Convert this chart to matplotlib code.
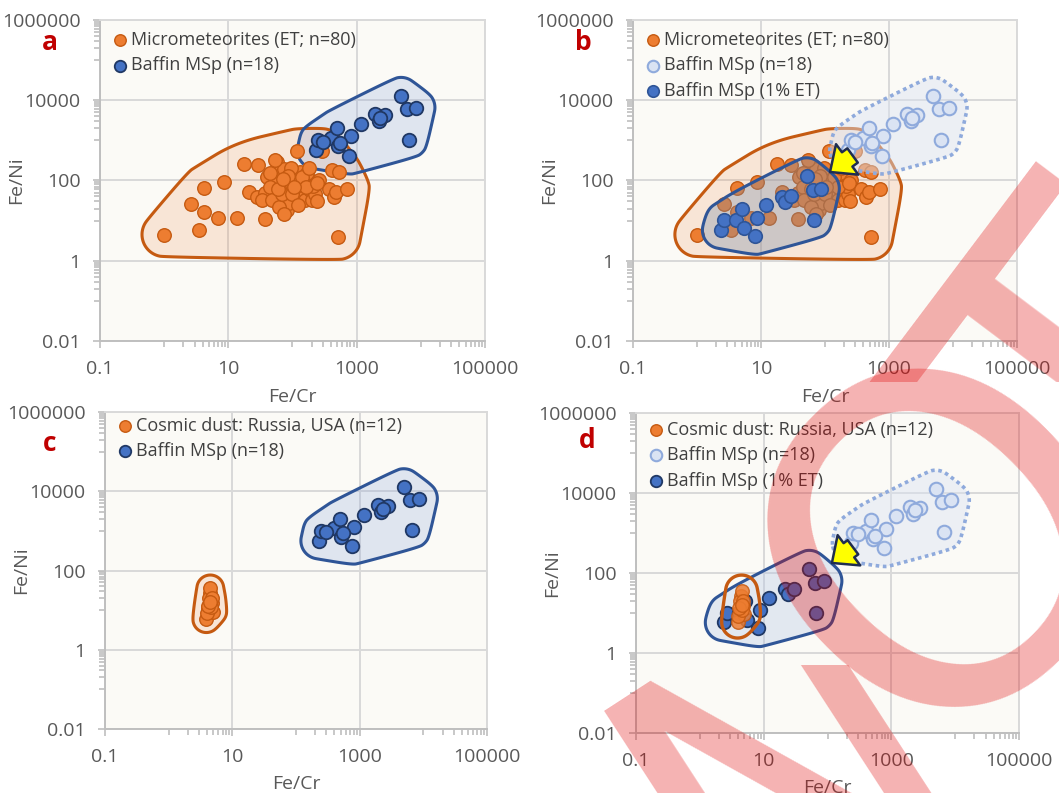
import numpy as np
import matplotlib
matplotlib.use("Agg")
from matplotlib import pyplot as plt
from matplotlib.patches import Polygon
from matplotlib.ticker import FixedLocator, NullFormatter
from matplotlib.transforms import Bbox

plt.rcParams['font.family'] = ['Open Sans', 'DejaVu Sans']

# micrometeorites (ET; n=80)
micro_fecr = [1.0, 2.65, 3.45, 4.2, 4.2, 6.9, 8.6, 13.5, 17.7, 29.4, 21, 27.7, 37.4, 37.4,
              39.8, 53.7, 57, 64.4, 72.6, 77, 79, 81.8, 86.9, 98, 111, 117, 125, 132, 137,
              150, 159, 179, 190, 202, 228, 242, 290, 369, 416, 442, 481, 530, 716, 516,
              53.7, 44.9, 33.2, 47.6, 60.6, 68.4, 72.6, 169, 257, 95, 140, 60, 100, 85,
              210, 45, 120, 160, 240, 105, 70, 180]
micro_feni = [4.5, 25.7, 6.0, 65.6, 16.5, 11.3, 92.7, 11.9, 265, 246, 52, 37.7, 10.8, 47.4,
              119, 87.5, 292, 181, 188, 84, 39, 18.9, 26.7, 76.5, 150, 540, 102, 164, 57,
              39, 32, 102, 57, 32, 47, 31, 550, 63, 181, 39, 52, 164, 60, 3.8,
              321, 69.5, 32, 32, 22, 47, 15, 150, 102, 200, 120, 60, 45, 130,
              75, 150, 25, 70, 85, 70, 110, 200]

# Baffin magnetic spherules (n=18)
baffin_fecr = [231, 251, 396, 486, 516, 816, 769, 1172, 1944, 2193, 2791, 4913, 6109,
               8551, 6563, 2328, 549, 300]
baffin_feni = [564, 1000, 1150, 2055, 710, 1268, 413, 2594, 4456, 3027, 4286, 12900, 5957,
               6566, 1045, 3675, 861, 920]

# Baffin MSp with 1% ET component
et1_fecr = [2.36, 2.65, 4.05, 5.14, 5.46, 8.1, 8.8, 12.2, 21.7, 23.9, 29.3, 51.6, 64, 86.5, 66.4]
et1_feni = [5.8, 10.2, 10.2, 20, 6.6, 4.1, 11.9, 24.3, 39, 29.4, 40.6, 128, 57.4, 63, 10.2]

# cosmic dust: Russia, USA (n=12)
dust_fecr = [4.4, 4.2, 3.9, 4.7, 5.0, 4.3, 4.5, 4.0, 4.6, 4.8, 4.1, 4.5]
dust_feni = [26.6, 11.1, 5.9, 14.9, 9.2, 19.9, 35.5, 8.3, 12, 20, 13, 16]

ORANGE = '#ED7D31'
ORANGE_DK = '#C55A11'
BLUE = '#4472C4'
BLUE_DK = '#203864'
BLUE_LN = '#2F5597'
LBLUE = '#DAE3F3'
LBLUE_LN = '#8FAADC'
GRAY = '#595959'

W, H = 384.0, 321.0   # plot area in pixels, used to pad the outlines


def convex_hull(p):
    p = sorted(set(map(tuple, p)))
    def cross(o, a, b):
        return (a[0]-o[0])*(b[1]-o[1]) - (a[1]-o[1])*(b[0]-o[0])
    lower, upper = [], []
    for q in p:
        while len(lower) >= 2 and cross(lower[-2], lower[-1], q) <= 0:
            lower.pop()
        lower.append(q)
    for q in reversed(p):
        while len(upper) >= 2 and cross(upper[-2], upper[-1], q) <= 0:
            upper.pop()
        upper.append(q)
    return np.array(lower[:-1] + upper[:-1])


def chaikin(p, n=4):
    for _ in range(n):
        q = np.roll(p, -1, axis=0)
        p = np.vstack([np.column_stack([0.75*p[:, 0] + 0.25*q[:, 0], 0.75*p[:, 1] + 0.25*q[:, 1]]),
                       np.column_stack([0.25*p[:, 0] + 0.75*q[:, 0], 0.25*p[:, 1] + 0.75*q[:, 1]])])
        k = len(p)//2
        p = p[np.ravel(np.column_stack([np.arange(k), np.arange(k) + k]))]
    return p


def blob(xs, ys, r):
    # rounded outline around a group, padded by r pixels
    u = (np.log10(xs) + 1) / 6 * W
    v = (np.log10(ys) + 2) / 8 * H
    t = np.linspace(0, 2*np.pi, 16, endpoint=False)
    pu = (u[:, None] + 1.25*r*np.cos(t)).ravel()
    pv = (v[:, None] + 1.25*r*np.sin(t)).ravel()
    h = chaikin(convex_hull(np.column_stack([pu, pv])), 5)
    return np.column_stack([10**(h[:, 0]/W*6 - 1), 10**(h[:, 1]/H*8 - 2)])


def outline(ax, xs, ys, r, ec, fc, alpha, ls='-', lw=2.2, z=1):
    xy = blob(np.array(xs, float), np.array(ys, float), r)
    ax.add_patch(Polygon(xy, closed=True, facecolor=fc, alpha=alpha, edgecolor='none', zorder=z))
    ax.add_patch(Polygon(xy, closed=True, facecolor='none', edgecolor=ec, lw=lw, ls=ls, zorder=z+0.1))


def setup(ax, letter, lpos):
    ax.set_xscale('log')
    ax.set_yscale('log')
    ax.set_xlim(0.1, 100000)
    ax.set_ylim(0.01, 1000000)
    ax.set_facecolor('#FBFAF6')
    ax.xaxis.set_major_locator(FixedLocator([0.1, 10, 1000, 100000]))
    ax.yaxis.set_major_locator(FixedLocator([0.01, 1, 100, 10000, 1000000]))
    ax.xaxis.set_minor_locator(FixedLocator([k*10.0**e for e in (0, 2, 4) for k in range(1, 10)]))
    ax.yaxis.set_minor_locator(FixedLocator([k*10.0**e for e in (-1, 1, 3, 5) for k in range(1, 10)]))
    ax.xaxis.set_minor_formatter(NullFormatter())
    ax.yaxis.set_minor_formatter(NullFormatter())
    ax.set_xticklabels(['0.1', '10', '1000', '100000'])
    ax.set_yticklabels(['0.01', '1', '100', '10000', '1000000'])
    ax.grid(True, which='major', color='#D9D9D9', lw=1.4, zorder=0)
    ax.set_axisbelow(True)
    for s in ax.spines.values():
        s.set_color('#D9D9D9')
        s.set_linewidth(1.4)
    ax.spines['left'].set_color('#BFBFBF')
    ax.spines['bottom'].set_color('#BFBFBF')
    ax.tick_params(which='both', colors='#BFBFBF', labelcolor=GRAY, labelsize=14, width=1.2)
    ax.tick_params(which='major', length=5, pad=9)
    ax.tick_params(which='minor', length=4)
    ax.set_xlabel('Fe/Cr', fontsize=14, color=GRAY)
    ax.set_ylabel('Fe/Ni', fontsize=14, color=GRAY)
    ax.xaxis.set_label_coords(0.5, -0.145)
    ax.yaxis.set_label_coords(-0.195, 0.5)
    ax.text(lpos[0], lpos[1], letter, transform=ax.transAxes, fontsize=19, fontweight='bold',
            color='#C00000', ha='center', va='center')


def legend(ax, top):
    ax.legend(loc='upper left', bbox_to_anchor=(0.0, top), frameon=False, fontsize=13,
              handletextpad=0.1, handlelength=1.0, borderpad=0.1, labelspacing=0.42,
              labelcolor='#404040', markerscale=0.85)


def arrow(ax, tip, tail):
    ax.annotate('', xy=tip, xytext=tail,
                arrowprops=dict(arrowstyle='simple,head_width=1.6,head_length=0.9,tail_width=0.75',
                                fc='#FFFF00', ec='#1F2D50', lw=1.8, shrinkA=0, shrinkB=0,
                                mutation_scale=17),
                zorder=8)


fig = plt.figure(figsize=(10.59, 7.93), dpi=100)
ax_a = fig.add_axes([0.0944, 0.570, 0.3636, 0.4048])
ax_b = fig.add_axes([0.5977, 0.570, 0.3626, 0.4048])
ax_c = fig.add_axes([0.0992, 0.0807, 0.3607, 0.3997])
ax_d = fig.add_axes([0.6006, 0.0757, 0.3617, 0.4035])

ms = 95

# panel a
setup(ax_a, 'a', (-0.13, 0.93))
outline(ax_a, micro_fecr, micro_feni, 18, ORANGE_DK, ORANGE, 0.16)
outline(ax_a, baffin_fecr, baffin_feni, 15, BLUE_LN, '#8EA9DB', 0.25)
ax_a.scatter(micro_fecr, micro_feni, s=ms, c=ORANGE, edgecolors=ORANGE_DK, lw=1.0, zorder=3,
             label='Micrometeorites (ET; n=80)')
ax_a.scatter(baffin_fecr, baffin_feni, s=ms, c=BLUE, edgecolors=BLUE_DK, lw=1.3, zorder=4,
             label='Baffin MSp (n=18)')
legend(ax_a, 1.0)

# panel b
setup(ax_b, 'b', (-0.13, 0.93))
outline(ax_b, micro_fecr, micro_feni, 18, ORANGE_DK, ORANGE, 0.16)
ax_b.scatter(micro_fecr, micro_feni, s=ms, c=ORANGE, edgecolors=ORANGE_DK, lw=1.0, zorder=3,
             label='Micrometeorites (ET; n=80)')
outline(ax_b, baffin_fecr, baffin_feni, 15, LBLUE_LN, LBLUE, 0.45, ls=(0, (1, 1)), lw=2.6, z=3.5)
ax_b.scatter(baffin_fecr, baffin_feni, s=ms, c=LBLUE, edgecolors=LBLUE_LN, lw=1.5, zorder=4,
             label='Baffin MSp (n=18)')
outline(ax_b, et1_fecr, et1_feni, 15, BLUE_LN, '#7F8FA9', 0.35, z=4.5)
ax_b.scatter(et1_fecr, et1_feni, s=ms, c=BLUE, edgecolors=BLUE_LN, lw=1.2, zorder=5,
             label='Baffin MSp (1% ET)')
arrow(ax_b, (120, 163), (270, 420))
legend(ax_b, 1.0)

# panel c
setup(ax_c, 'c', (-0.144, 0.90))
outline(ax_c, dust_fecr, dust_feni, 11, ORANGE_DK, ORANGE, 0.16)
outline(ax_c, baffin_fecr, baffin_feni, 15, BLUE_LN, '#8EA9DB', 0.25)
ax_c.scatter(dust_fecr, dust_feni, s=ms, c=ORANGE, edgecolors=ORANGE_DK, lw=1.0, zorder=3,
             label='Cosmic dust: Russia, USA (n=12)')
ax_c.scatter(baffin_fecr, baffin_feni, s=ms, c=BLUE, edgecolors=BLUE_DK, lw=1.3, zorder=4,
             label='Baffin MSp (n=18)')
legend(ax_c, 1.02)

# panel d
setup(ax_d, 'd', (-0.128, 0.915))
outline(ax_d, baffin_fecr, baffin_feni, 15, LBLUE_LN, LBLUE, 0.45, ls=(0, (1, 1)), lw=2.6)
ax_d.scatter([], [], s=ms, c=ORANGE, edgecolors=ORANGE_DK, lw=1.0,
             label='Cosmic dust: Russia, USA (n=12)')
ax_d.scatter(baffin_fecr, baffin_feni, s=ms, c=LBLUE, edgecolors=LBLUE_LN, lw=1.5, zorder=3,
             label='Baffin MSp (n=18)')
outline(ax_d, et1_fecr, et1_feni, 15, BLUE_LN, '#B4C7E7', 0.35, z=3.5)
ax_d.scatter(et1_fecr, et1_feni, s=ms, c=BLUE, edgecolors=BLUE_DK, lw=1.3, zorder=4,
             label='Baffin MSp (1% ET)')
ax_d.scatter(dust_fecr, dust_feni, s=ms, c=ORANGE, edgecolors=ORANGE_DK, lw=1.0, alpha=0.85,
             zorder=5)
outline(ax_d, dust_fecr, dust_feni, 13, ORANGE_DK, ORANGE, 0.0, lw=2.4, z=5.5)
arrow(ax_d, (117, 178), (250, 440))
legend(ax_d, 1.01)

# red stamp running up the right half, one letter at a time along an arc
stamp = dict(color='#E00000', alpha=0.3, rotation_mode='anchor', family='DejaVu Sans', zorder=20)
n_txt = fig.text(0.6884, -0.2194, 'N', rotation=33, fontsize=300, ha='left', va='baseline', **stamp)
n_txt.set_clip_box(Bbox.from_extents(0, 0, 1059, 128))
fig.text(0.9896, 0.1955, 'O', rotation=45, fontsize=330, ha='center', va='baseline', **stamp)
t_txt = fig.text(1.1501, 0.3997, 'T', rotation=53, fontsize=330, ha='center', va='baseline', **stamp)
t_txt.set_clip_box(Bbox.from_extents(0, 793 - 382, 1059, 793))

fig.savefig('out.png', dpi=100)
